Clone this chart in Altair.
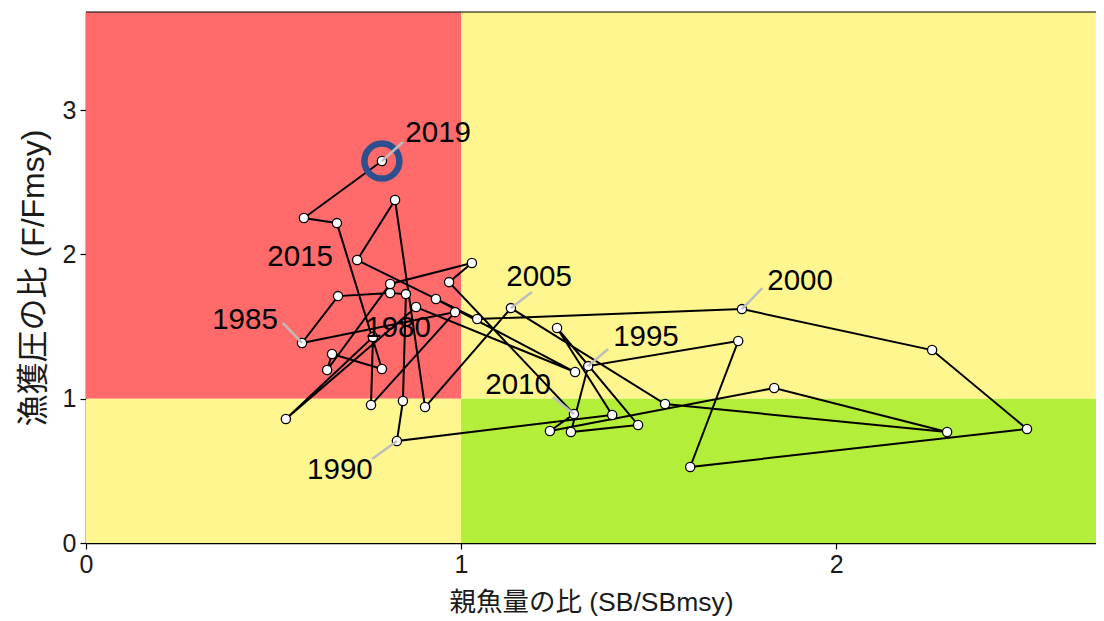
import altair as alt
import pandas as pd

# ---- data ----
years = list(range(1978, 2020))
sb_ratio = [0.933, 1.304, 0.880, 0.533, 0.765, 0.760, 0.984, 0.576, 0.672, 0.811,
            0.853, 0.845, 0.829, 1.403, 1.256, 1.472, 1.293, 1.339, 1.739, 1.611,
            2.509, 2.256, 1.749, 1.043, 0.723, 0.824, 0.904, 1.133, 1.544, 2.296,
            1.835, 1.237, 1.301, 0.968, 1.029, 0.811, 0.643, 0.656, 0.789, 0.669,
            0.581, 0.789]
f_ratio = [1.691, 1.185, 1.635, 0.859, 1.427, 0.956, 1.600, 1.386, 1.711, 1.732,
           1.725, 0.984, 0.707, 0.887, 1.490, 0.818, 0.769, 1.226, 1.400, 0.527,
           0.790, 1.337, 1.621, 1.552, 1.961, 2.377, 0.942, 1.628, 0.963, 0.769,
           1.074, 0.776, 0.894, 1.808, 1.940, 1.795, 1.199, 1.310, 1.206, 2.217,
           2.252, 2.647]

label_years = [1980, 1985, 1990, 1995, 2000, 2005, 2010, 2015, 2019]
label_sb = [0.832, 0.424, 0.677, 1.493, 1.904, 1.208, 1.152, 0.571, 0.939]
label_f = [1.490, 1.545, 0.506, 1.428, 1.816, 1.843, 1.095, 1.982, 2.841]
leader_years = [1985, 1990, 1995, 2000, 2005, 2010, 2019]
leader_sb = [0.525, 0.763, 1.392, 1.803, 1.189, 1.245, 0.845]
leader_f = [1.525, 0.582, 1.344, 1.767, 1.739, 1.012, 2.779]

x_ticks = [0, 1, 2]
y_ticks = [0, 1, 2, 3]
X_MAX = 2.693
Y_MAX = 3.68

zone_x = [0, 0, 1, 1]
zone_x2 = [1, 1, X_MAX, X_MAX]
zone_y = [1, 0, 1, 0]
zone_y2 = [Y_MAX, 1, Y_MAX, 1]
zone_col = ["#FF6A6A", "#FFF68F", "#FFF68F", "#B3EE3A"]

FONT = "Liberation Sans, Arial, Noto Sans CJK JP"
W, H = 1010, 531

traj = pd.DataFrame({"year": years, "sb": sb_ratio, "f": f_ratio})
last = traj[traj["year"] == 2019]
labels = pd.DataFrame({"year": label_years, "lx": label_sb, "ly": label_f,
                       "txt": [str(v) for v in label_years]})
pos = dict(zip(years, zip(sb_ratio, f_ratio)))
leaders = pd.DataFrame({
    "year": leader_years,
    "sb": [pos[y][0] for y in leader_years],
    "f": [pos[y][1] for y in leader_years],
    "ex": leader_sb, "ey": leader_f})
zones = pd.DataFrame({"x": zone_x, "x2": zone_x2, "y": zone_y, "y2": zone_y2, "c": zone_col})

xs = alt.Scale(domain=[0, X_MAX], nice=False, zero=False)
ys = alt.Scale(domain=[0, Y_MAX], nice=False, zero=False)

x_axis = alt.Axis(values=x_ticks, format="d", labelFlush=False, title="親魚量の比 (SB/SBmsy)",
                  grid=False, tickSize=6, tickColor="black", tickWidth=1.2,
                  domainColor="black", domainWidth=1.5,
                  labelFontSize=25, labelFont=FONT, labelColor="#1a1a1a",
                  titleFontSize=26.5, titleFont=FONT, titleFontWeight="normal",
                  titleColor="#1a1a1a", titlePadding=12, labelPadding=3)
y_axis = alt.Axis(values=y_ticks, format="d", labelFlush=False, title="漁獲圧の比 (F/Fmsy)",
                  grid=False, tickSize=6, tickColor="black", tickWidth=1.2,
                  domainColor="black", domainWidth=1.5,
                  labelFontSize=25, labelFont=FONT, labelColor="#1a1a1a",
                  titleFontSize=32, titleFont=FONT, titleFontWeight="normal",
                  titleColor="#1a1a1a", titlePadding=12, labelPadding=4)

bg = alt.Chart(zones).mark_rect().encode(
    x=alt.X("x:Q", scale=xs, axis=x_axis),
    x2="x2:Q",
    y=alt.Y("y:Q", scale=ys, axis=y_axis),
    y2="y2:Q",
    color=alt.Color("c:N", scale=None),
)

top_rule = alt.Chart(pd.DataFrame({"k": [0]})).mark_rule(color="black", strokeWidth=1.2).encode(
    y=alt.value(0), x=alt.value(0), x2=alt.value(W))

path = alt.Chart(traj).mark_line(color="black", strokeWidth=2).encode(
    x=alt.X("sb:Q", scale=xs), y=alt.Y("f:Q", scale=ys), order="year:O")

pts = alt.Chart(traj).mark_point(shape="circle", filled=True, fill="white",
                                 stroke="black", strokeWidth=1.3, size=85, opacity=1).encode(
    x=alt.X("sb:Q", scale=xs), y=alt.Y("f:Q", scale=ys))

ring = alt.Chart(last).mark_point(shape="circle", filled=False, stroke="#2E4F8F",
                                  strokeWidth=6.5, size=1225, opacity=1).encode(
    x=alt.X("sb:Q", scale=xs), y=alt.Y("f:Q", scale=ys))

lead = alt.Chart(leaders).mark_rule(color="#BDBDBD", strokeWidth=2.5).encode(
    x=alt.X("sb:Q", scale=xs), y=alt.Y("f:Q", scale=ys),
    x2="ex:Q", y2="ey:Q")

txt = alt.Chart(labels).mark_text(font=FONT, fontSize=29.5, color="black",
                                  align="center", baseline="middle").encode(
    x=alt.X("lx:Q", scale=xs), y=alt.Y("ly:Q", scale=ys), text="txt:N")

chart = alt.layer(bg, top_rule, path, pts, ring, lead, txt).properties(
    width=W, height=H,
    autosize=alt.AutoSizeParams(type="none"),
    padding={"left": 78, "top": 4, "right": 0, "bottom": 78},
).configure_view(strokeWidth=0).configure(background="white")

chart.save("out.html", embed_options={"renderer": "svg", "actions": False})
